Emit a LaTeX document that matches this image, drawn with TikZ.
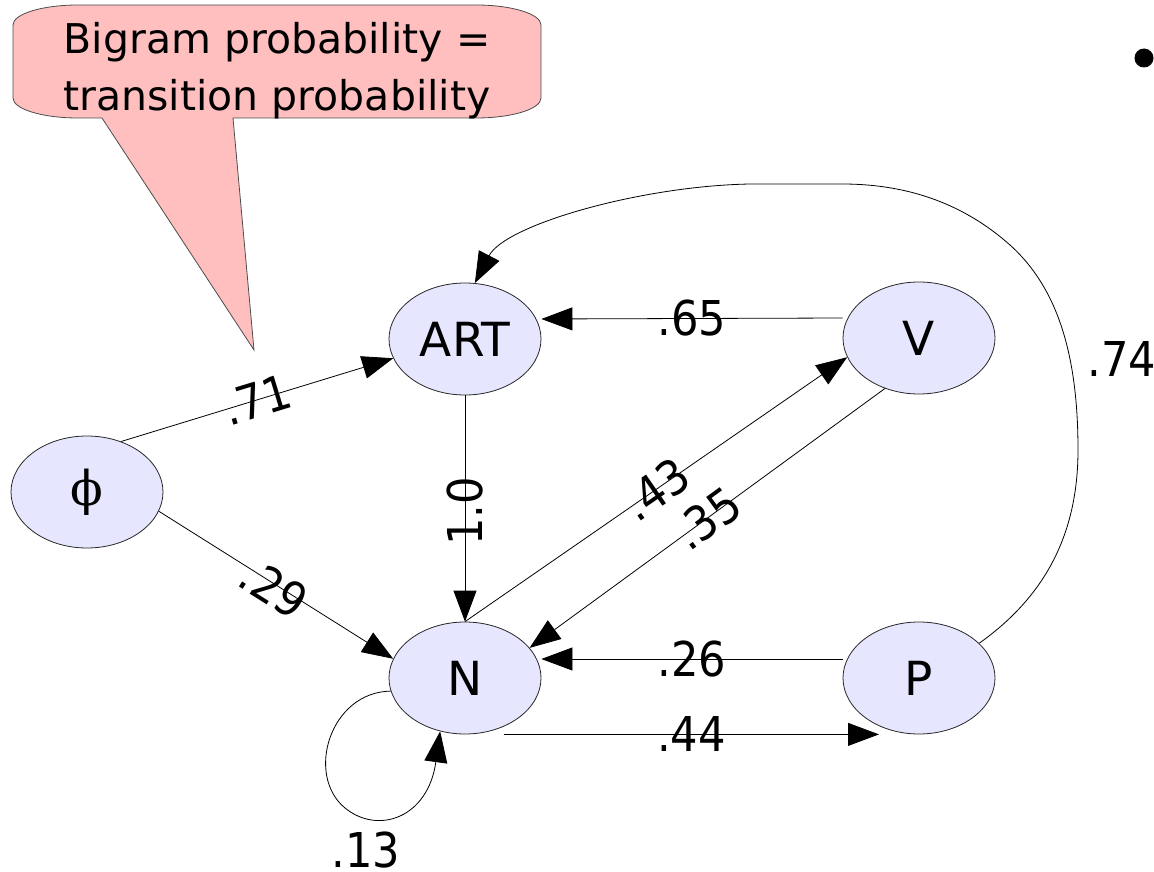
\documentclass[tikz,border=0pt]{standalone}
\usepackage{fontspec}
\setmainfont{DejaVu Sans}
\newfontfamily\phifont{DejaVu Serif}
\newfontfamily\probfont{DejaVu Sans}[FakeStretch=0.9]
\usetikzlibrary{shapes.geometric,arrows.meta}
\definecolor{statefill}{RGB}{230,230,255}
\definecolor{notefill}{RGB}{255,191,191}
\tikzset{
  state/.style={ellipse,draw=black!85,fill=statefill,line width=0.8pt,minimum width=152pt,minimum height=112pt,inner sep=0pt,font=\fontsize{47}{56}\selectfont},
  trans/.style={-{Triangle[length=31pt,width=23pt]},line width=0.8pt},
  prob/.style={font=\probfont\fontsize{48}{56}\selectfont,inner sep=0pt}
}
\begin{document}
\begin{tikzpicture}[x=1pt,y=-1pt]
\useasboundingbox (0,0) rectangle (1154,872);
% callout
\filldraw[fill=notefill,draw=black!70,line width=0.8pt] (78,5) -- (476,5) .. controls (512,5) and (541,14) .. (541,25) -- (541,98) .. controls (541,109) and (512,118) .. (476,118) -- (233,118) -- (254,350) -- (102,118) -- (78,118) .. controls (42,118) and (13,109) .. (13,98) -- (13,25) .. controls (13,14) and (42,5) .. (78,5) -- cycle;
\node[align=center,font=\fontsize{41}{57}\selectfont,inner sep=0pt] (note) at (277,71) {Bigram probability =\\transition probability};
% states
\node[state,font=\phifont\fontsize{48}{56}\selectfont] (phi) at (87,492) {ϕ};
\foreach \name/\x/\y/\txt in {art/465/339/ART,v/919/338/V,n/465/678/N,p/919/678/P}
  \node[state] (\name) at (\x,\y) {\txt};
% transitions
\draw[trans] (phi.56) -- node[prob,sloped] {.71} (art.195);
\draw[trans] (phi.345) -- node[prob,sloped,yshift=-4pt] {.29} (n.165);
\draw[trans] (art.south) -- node[prob,rotate=90,xshift=-3pt] {1.0} (n.north);
\draw[trans] (n.north) -- node[prob,sloped] {.43} (v.195);
\draw[trans] (v.236) -- node[prob,sloped] {.35} (n.25);
\draw[trans] ([yshift=20pt]v.west) -- node[prob] {.65} ([yshift=20pt]art.east);
\draw[trans] ([yshift=19pt]p.west) -- node[prob] {.26} ([yshift=19pt]n.east);
\draw[trans] ([xshift=39pt]n.south) -- node[prob] {.44} ([xshift=-40pt]p.south);
\draw[trans] (n.190) .. controls (330,692) and (305,775) .. (345,808) .. controls (378,835) and (428,818) .. (n.245);
\node[prob] (l13) at (366,850) {.13};
\draw[trans] (p.30) .. controls (1040,600) and (1078,540) .. (1078,450) .. controls (1078,360) and (1060,290) .. (1010,245) .. controls (965,205) and (910,184) .. (842,184) -- (750,184) .. controls (640,186) and (505,225) .. (art.80);
\node[prob] (l74) at (1122,359) {.74};
\node[circle,fill,inner sep=0pt,minimum size=19pt] (dot) at (1144,58) {};
\end{tikzpicture}
\end{document}
